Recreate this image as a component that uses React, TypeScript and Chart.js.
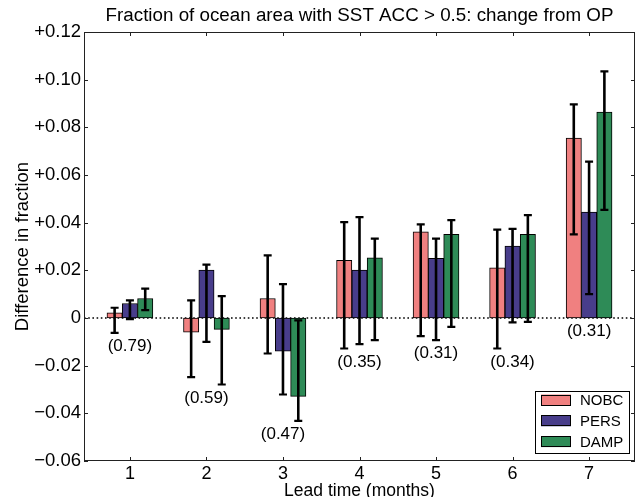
import React, { useEffect, useRef } from "react";
import { Chart, registerables } from "chart.js";

Chart.register(...registerables);

const leadTimes = [1, 2, 3, 4, 5, 6, 7];
const seriesNames = ["NOBC", "PERS", "DAMP"];
const seriesColors = ["#F08080", "#483D8B", "#2E8B57"];

const nobc = [0.0022, -0.0059, 0.0082, 0.0242, 0.0362, 0.0211, 0.0755];
const pers = [0.0061, 0.0201, -0.0139, 0.0201, 0.025, 0.0302, 0.0444];
const damp = [0.0082, -0.0048, -0.0329, 0.0252, 0.0351, 0.0351, 0.0864];

const nobcLow = [-0.0062, -0.0248, -0.0149, -0.0128, -0.0076, -0.0128, 0.0351];
const nobcHigh = [0.0043, 0.0074, 0.0263, 0.0402, 0.0393, 0.0371, 0.0896];
const persLow = [-0.0005, -0.01, -0.0321, -0.011, -0.0093, -0.0018, 0.01];
const persHigh = [0.0074, 0.0224, 0.0142, 0.0423, 0.0333, 0.0374, 0.0656];
const dampLow = [0.0033, -0.0279, -0.0432, -0.0093, -0.0037, -0.0016, 0.0454];
const dampHigh = [0.0123, 0.0092, -0.001, 0.0333, 0.0411, 0.0432, 0.1035];

const skillLabels = ["(0.79)", "(0.59)", "(0.47)", "(0.35)", "(0.31)", "(0.34)", "(0.31)"];
const yTickValues = [-0.06, -0.04, -0.02, 0, 0.02, 0.04, 0.06, 0.08, 0.1, 0.12];

const chartTitle = "Fraction of ocean area with SST ACC > 0.5: change from OP";
const xTitle = "Lead time (months)";
const yTitle = "Difference in fraction";

const FONT = '"Liberation Sans", Arial, Helvetica, sans-serif';

const seriesValues = [nobc, pers, damp];
const seriesLow = [nobcLow, persLow, dampLow];
const seriesHigh = [nobcHigh, persHigh, dampHigh];

function fmtY(v: number): string {
  if (Math.abs(v) < 1e-9) return "0";
  const s = Math.abs(v).toFixed(2);
  return v > 0 ? "+" + s : "\u2212" + s;
}

const decorPlugin = {
  id: "decor",
  beforeDatasetsDraw(chart: any) {
    const { ctx, chartArea } = chart;
    const y0 = chart.scales.y.getPixelForValue(0);
    ctx.save();
    ctx.strokeStyle = "#000";
    ctx.lineWidth = 1.6;
    ctx.setLineDash([1.6, 2.6]);
    ctx.beginPath();
    ctx.moveTo(chartArea.left, y0);
    ctx.lineTo(chartArea.right, y0);
    ctx.stroke();
    ctx.restore();
  },
  afterDatasetsDraw(chart: any) {
    const { ctx, chartArea } = chart;
    const xs = chart.scales.x;
    const ys = chart.scales.y;
    ctx.save();
    // error bars
    ctx.strokeStyle = "#000";
    ctx.lineCap = "butt";
    seriesValues.forEach((_, si) => {
      const meta = chart.getDatasetMeta(si);
      meta.data.forEach((el: any, j: number) => {
        const x = el.x;
        const yl = ys.getPixelForValue(seriesLow[si][j]);
        const yh = ys.getPixelForValue(seriesHigh[si][j]);
        ctx.lineWidth = 2.6;
        ctx.beginPath();
        ctx.moveTo(x, yl);
        ctx.lineTo(x, yh);
        ctx.stroke();
        ctx.lineWidth = 2.2;
        ctx.beginPath();
        ctx.moveTo(x - 4, yl);
        ctx.lineTo(x + 4, yl);
        ctx.moveTo(x - 4, yh);
        ctx.lineTo(x + 4, yh);
        ctx.stroke();
      });
    });

    // skill labels
    ctx.fillStyle = "#000";
    ctx.font = "17px " + FONT;
    ctx.textAlign = "center";
    ctx.textBaseline = "top";
    leadTimes.forEach((lt, j) => {
      let m = 0;
      seriesLow.forEach((arr) => {
        m = Math.min(m, arr[j]);
      });
      const px = xs.getPixelForValue(lt);
      const py = ys.getPixelForValue(m) + 5;
      ctx.fillText(skillLabels[j], px, py);
    });

    // frame
    ctx.strokeStyle = "#222";
    ctx.lineWidth = 1;
    ctx.strokeRect(
      Math.round(chartArea.left) + 0.5,
      Math.round(chartArea.top) + 0.5,
      Math.round(chartArea.right - chartArea.left) - 1,
      Math.round(chartArea.bottom - chartArea.top) - 1
    );

    // inward ticks
    ctx.beginPath();
    leadTimes.forEach((lt) => {
      const px = Math.round(xs.getPixelForValue(lt)) + 0.5;
      ctx.moveTo(px, chartArea.bottom);
      ctx.lineTo(px, chartArea.bottom - 4);
      ctx.moveTo(px, chartArea.top);
      ctx.lineTo(px, chartArea.top + 4);
    });
    yTickValues.forEach((v) => {
      const py = Math.round(ys.getPixelForValue(v)) + 0.5;
      ctx.moveTo(chartArea.left, py);
      ctx.lineTo(chartArea.left + 4, py);
      ctx.moveTo(chartArea.right, py);
      ctx.lineTo(chartArea.right - 4, py);
    });
    ctx.stroke();

    // legend
    const lx = 535.5, ly = 391.5, lw = 94, lh = 62;
    ctx.fillStyle = "#fff";
    ctx.fillRect(lx, ly, lw, lh);
    ctx.strokeStyle = "#000";
    ctx.lineWidth = 1;
    ctx.strokeRect(lx, ly, lw, lh);
    ctx.font = "15px " + FONT;
    ctx.textAlign = "left";
    ctx.textBaseline = "middle";
    seriesNames.forEach((name, i) => {
      const cy = 400 + i * 20.8;
      ctx.fillStyle = seriesColors[i];
      ctx.fillRect(541, cy - 5.5, 30, 11);
      ctx.strokeStyle = "#000";
      ctx.strokeRect(541.5, Math.round(cy - 5.5) + 0.5, 29, 10);
      ctx.fillStyle = "#000";
      ctx.fillText(name, 580, cy + 1);
    });

    // titles
    const cx = (chartArea.left + chartArea.right) / 2;
    ctx.fillStyle = "#000";
    ctx.textAlign = "center";
    ctx.textBaseline = "alphabetic";
    ctx.font = "18.8px " + FONT;
    ctx.fillText(chartTitle, cx, 21);
    ctx.font = "17.5px " + FONT;
    ctx.fillText(xTitle, cx, 496);
    ctx.save();
    ctx.font = "18.5px " + FONT;
    ctx.translate(28, (chartArea.top + chartArea.bottom) / 2);
    ctx.rotate(-Math.PI / 2);
    ctx.fillText(yTitle, 0, 0);
    ctx.restore();

    ctx.restore();
  },
};

export default function App() {
  const ref = useRef<HTMLCanvasElement | null>(null);
  useEffect(() => {
    if (!ref.current) return;
    const chart = new Chart(ref.current, {
      type: "bar",
      data: {
        datasets: seriesNames.map((name, i) => ({
          label: name,
          data: leadTimes.map((x, j) => ({ x, y: seriesValues[i][j] })),
          backgroundColor: seriesColors[i],
          borderColor: "#000",
          borderWidth: 1,
          borderSkipped: false,
          barThickness: 15.3,
        })),
      },
      options: {
        responsive: false,
        animation: false,
        devicePixelRatio: 1,
        layout: { padding: { top: 32, right: 5, left: 0, bottom: 0 } },
        plugins: {
          legend: { display: false },
          title: { display: false },
          tooltip: { enabled: false },
        },
        scales: {
          x: {
            type: "linear",
            min: 0.4,
            max: 7.6,
            offset: false,
            afterBuildTicks: (s: any) => {
              s.ticks = leadTimes.map((v) => ({ value: v }));
            },
            afterFit: (s: any) => {
              s.height = 36;
            },
            grid: { display: false, drawTicks: false },
            border: { display: false },
            ticks: {
              padding: 2,
              color: "#000",
              font: { family: FONT, size: 18 },
              callback: (v: any) => String(v),
            },
          },
          y: {
            min: -0.06,
            max: 0.12,
            afterBuildTicks: (s: any) => {
              s.ticks = yTickValues.map((v) => ({ value: v }));
            },
            afterFit: (s: any) => {
              s.width = 84;
            },
            grid: { display: false, drawTicks: false },
            border: { display: false },
            ticks: {
              padding: 3,
              color: "#000",
              font: { family: FONT, size: 18.5 },
              callback: (v: any) => fmtY(Number(v)),
            },
          },
        },
      },
      plugins: [decorPlugin],
    } as any);
    return () => chart.destroy();
  }, []);
  return (
    <div style={{ position: "fixed", left: 0, top: 0, width: 640, height: 497 }}>
      <canvas ref={ref} width={640} height={497} />
    </div>
  );
}
